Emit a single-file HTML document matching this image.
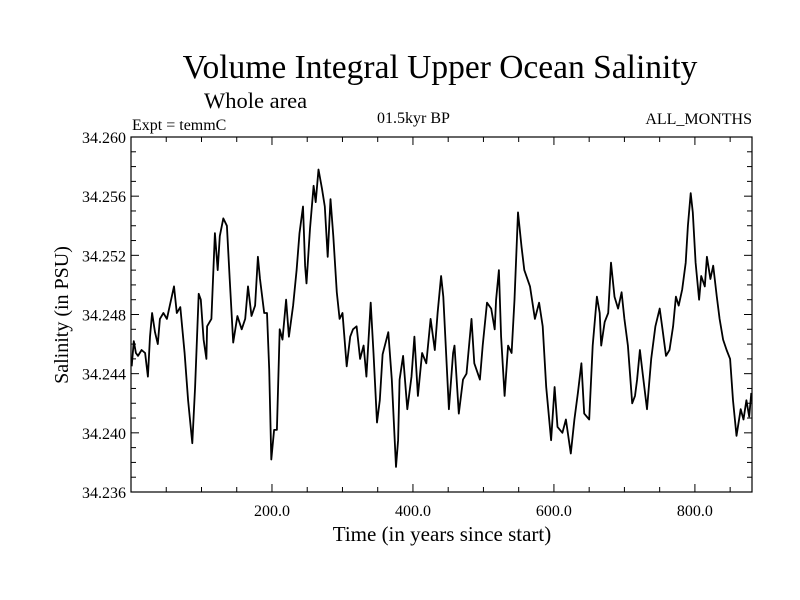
<!DOCTYPE html>
<html><head><meta charset="utf-8"><style>
html,body{margin:0;padding:0;background:#fff;}
svg{display:block;font-family:"Liberation Serif",serif;}
</style></head><body>
<svg id="chart" width="800" height="600" viewBox="0 0 800 600">
<text x="440" y="78" font-size="33.5" text-anchor="middle">Volume Integral Upper Ocean Salinity</text>
<text x="204" y="108" font-size="22.5">Whole area</text>
<text x="132" y="130" font-size="16">Expt = temmC</text>
<text x="377" y="123" font-size="16">01.5kyr BP</text>
<text x="752" y="124" font-size="16" text-anchor="end">ALL_MONTHS</text>
<text x="442" y="541" font-size="21" text-anchor="middle">Time (in years since start)</text>
<text transform="translate(68,315) rotate(-90)" font-size="20" text-anchor="middle">Salinity (in PSU)</text>
<g id="axes"></g>
<path id="line" fill="none" stroke="#000" stroke-width="1.8" stroke-linejoin="round"></path>
<rect x="131" y="137" width="621" height="355" fill="none" stroke="#000" stroke-width="1.2"></rect>
</svg>
<script>
const years=[1,4,7,10,15,20,24,27,30,34,38,41,46,51,55,61,65,70,76,81,87,91,96,99,103,107,108,114,119,123,126,131,136,140,145,151,157,162,166,171,176,180,183,189,193,196,199,203,207,211,215,220,224,230,235,239,244,247,249,254,259,262,266,271,275,279,283,287,292,296,300,306,311,315,320,325,330,334,340,344,349,353,357,365,370,376,379,381,386,392,398,402,407,413,419,425,431,435,440,443,451,457,459,465,471,476,483,487,495,499,505,511,516,518,522,525,530,535,540,544,549,554,558,566,573,579,584,589,596,601,605,612,617,624,629,634,639,643,650,655,661,665,667,672,677,681,686,691,696,700,705,711,715,718,722,726,732,738,744,750,754,759,764,769,773,777,782,787,790,794,797,801,806,809,814,817,822,826,831,835,840,845,850,854,859,865,869,873,877,880];
const salinity=[34.2445,34.2462,34.2454,34.2452,34.2456,34.2454,34.2438,34.2465,34.2481,34.2468,34.2460,34.2477,34.2481,34.2477,34.2486,34.2499,34.2481,34.2485,34.2454,34.2422,34.2393,34.2431,34.2494,34.2490,34.2463,34.2450,34.2472,34.2477,34.2535,34.2510,34.2533,34.2545,34.2540,34.2504,34.2461,34.2479,34.2470,34.2477,34.2499,34.2479,34.2486,34.2519,34.2504,34.2481,34.2481,34.2443,34.2382,34.2402,34.2402,34.2470,34.2463,34.2490,34.2465,34.2486,34.2510,34.2535,34.2553,34.2513,34.2501,34.2538,34.2567,34.2556,34.2578,34.2565,34.2553,34.2519,34.2558,34.2533,34.2495,34.2477,34.2481,34.2445,34.2465,34.2470,34.2472,34.2450,34.2459,34.2438,34.2488,34.2454,34.2407,34.2422,34.2453,34.2468,34.2436,34.2377,34.2395,34.2436,34.2452,34.2416,34.2438,34.2465,34.2425,34.2454,34.2447,34.2477,34.2456,34.2481,34.2506,34.2492,34.2416,34.2454,34.2459,34.2413,34.2436,34.2440,34.2477,34.2447,34.2436,34.2459,34.2488,34.2484,34.2470,34.2490,34.2510,34.2465,34.2425,34.2459,34.2454,34.2490,34.2549,34.2526,34.2510,34.2499,34.2477,34.2488,34.2472,34.2431,34.2395,34.2431,34.2404,34.2400,34.2409,34.2386,34.2409,34.2427,34.2447,34.2413,34.2409,34.2459,34.2492,34.2481,34.2459,34.2475,34.2481,34.2515,34.2492,34.2484,34.2495,34.2477,34.2459,34.2420,34.2425,34.2436,34.2456,34.2440,34.2416,34.2450,34.2472,34.2484,34.2470,34.2452,34.2456,34.2472,34.2492,34.2486,34.2497,34.2515,34.2540,34.2562,34.2549,34.2515,34.2490,34.2506,34.2499,34.2519,34.2504,34.2513,34.2492,34.2477,34.2463,34.2456,34.2450,34.2422,34.2398,34.2416,34.2409,34.2422,34.2411,34.2427];
const xTickLabels=["200.0","400.0","600.0","800.0"];
const xTickValues=[200,400,600,800];
const yTickLabels=["34.236","34.240","34.244","34.248","34.252","34.256","34.260"];
const yTickValues=[34.236,34.240,34.244,34.248,34.252,34.256,34.260];

const L=131,R=752,T=137,B=492,X0=0,X1=881,Y0=34.236,Y1=34.260;
function xs(v){return L+(v-X0)/(X1-X0)*(R-L);}
function ys(v){return B-(v-Y0)/(Y1-Y0)*(B-T);}
const NS="http://www.w3.org/2000/svg";
const axes=document.getElementById('axes');
function ln(x1,y1,x2,y2,name){
  const l=document.createElementNS(NS,'line');
  l.setAttribute('x1',x1);l.setAttribute('y1',y1);l.setAttribute('x2',x2);l.setAttribute('y2',y2);
  l.setAttribute('stroke','#000');l.setAttribute('stroke-width','1');
  
  
  axes.appendChild(l);
}
function tx(x,y,s,anchor,name){
  const t=document.createElementNS(NS,'text');
  t.setAttribute('x',x);t.setAttribute('y',y);t.setAttribute('font-size','16');t.setAttribute('text-anchor',anchor);
  t.textContent=s;
  
  
  axes.appendChild(t);
}
for(let v=50;v<X1;v+=50){
  const major=v%200===0, len=major?8:5, x=xs(v);
  ln(x,B,x,B-len,'x-tick');ln(x,T,x,T+len,'x-tick-top');
}
for(let i=0;i<=24;i++){
  const v=Y0+i*0.001, major=i%4===0, len=major?8:5, y=ys(v);
  ln(L,y,L+len,y,'y-tick');ln(R,y,R-len,y,'y-tick-right');
}
xTickValues.forEach((v,i)=>tx(xs(v),B+24,xTickLabels[i],'middle','x-tick-label'));
yTickValues.forEach((v,i)=>tx(L-5,ys(v)+6,yTickLabels[i],'end','y-tick-label'));
let d='';
years.forEach((yr,i)=>{d+=(i?'L':'M')+xs(yr).toFixed(1)+','+ys(salinity[i]).toFixed(1);});
document.getElementById('line').setAttribute('d',d);
</script>
</body></html>
